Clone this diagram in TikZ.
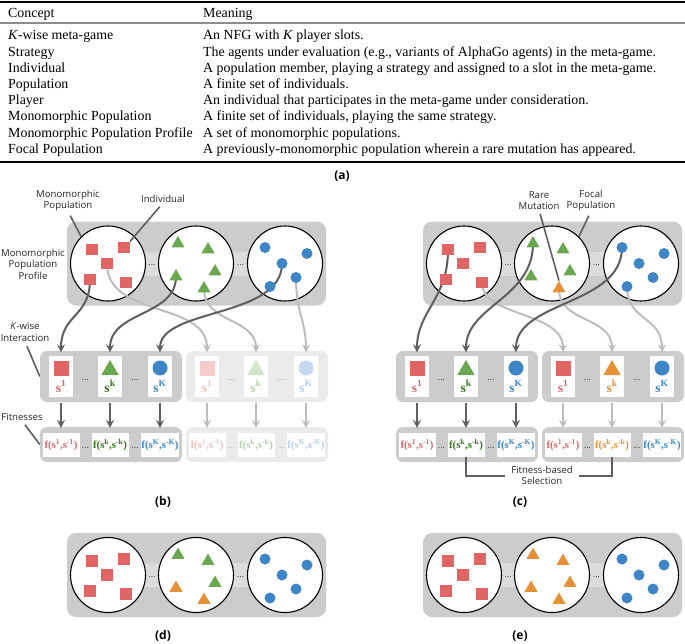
\documentclass[tikz,border=0pt]{standalone}
\usepackage{fontspec}
\setmainfont{Liberation Serif}
\setsansfont{Open Sans}
\usetikzlibrary{arrows.meta,shapes.geometric}
\definecolor{cred}{HTML}{E06666}
\definecolor{cgreen}{HTML}{6AA84F}
\definecolor{cblue}{HTML}{3D85C6}
\definecolor{corange}{HTML}{E69138}
\definecolor{tred}{HTML}{E06666}
\definecolor{tgreen}{HTML}{38761D}
\definecolor{tblue}{HTML}{3D85C6}
\definecolor{tor}{HTML}{E69138}
\definecolor{pred}{HTML}{F6CACA}
\definecolor{pgreen}{HTML}{D3E6C9}
\definecolor{pblue}{HTML}{C6D9F1}
\definecolor{ptred}{HTML}{F4BDBD}
\definecolor{ptgreen}{HTML}{B9CFAE}
\definecolor{ptblue}{HTML}{B8CDEE}
\definecolor{boxgray}{HTML}{CCCCCC}
\definecolor{boxlight}{HTML}{EBEBEB}
\definecolor{bandgray}{HTML}{DCDCDC}
\definecolor{darkline}{HTML}{5F5F5F}
\definecolor{lightline}{HTML}{BDBDBD}
\pgfdeclarelayer{back}\pgfdeclarelayer{mid}
\pgfsetlayers{back,mid,main}
\tikzset{
  tabl/.style={anchor=base west, inner sep=0, font=\fontsize{13.9}{15}\selectfont},
  popbox/.style={rectangle, rounded corners=9pt, fill=boxgray, minimum width=259pt, minimum height=84pt, inner sep=0},
  popcirc/.style={circle, draw=black, line width=1.1pt, fill=white, minimum size=75pt, inner sep=0},
  sqn/.style={rectangle, minimum size=11.5pt, inner sep=0},
  trin/.style={regular polygon, regular polygon sides=3, minimum size=15pt, inner sep=0},
  cirn/.style={circle, minimum size=11pt, inner sep=0},
  gdots/.style={font=\sffamily\fontsize{9}{9}\selectfont, text=dotcol, inner sep=0, anchor=base},
  kbox/.style={rectangle, rounded corners=7pt, minimum width=142pt, minimum height=51pt, inner sep=0},
  fbox/.style={rectangle, rounded corners=7pt, minimum width=142pt, minimum height=35pt, inner sep=0},
  card/.style={rectangle, fill=white, minimum width=24pt, minimum height=41pt, inner sep=0},
  fcard/.style={rectangle, fill=white, minimum width=37pt, minimum height=24pt, inner sep=0, font=\bfseries\fontsize{10.8}{11}\selectfont},
  slab/.style={inner sep=0, anchor=base, font=\bfseries\fontsize{13.5}{13.5}\selectfont},
  darr/.style={draw=darkline, line width=2pt, -{Stealth[length=8pt,width=8pt,inset=3pt]}},
  larr/.style={draw=lightline, line width=2pt, -{Stealth[length=8pt,width=8pt,inset=3pt]}},
  lead/.style={draw=darkline, line width=1.6pt},
  lab/.style={font=\sffamily\fontsize{9.6}{11.5}\selectfont, align=center, inner sep=0, text=black!85},
  plab/.style={font=\sffamily\bfseries\fontsize{12}{12}\selectfont, inner sep=0},
}
\colorlet{dotcol}{black!75}
\newcommand\popprofile[3]{%
  \begin{pgfonlayer}{back}
    \node[popbox] (#1box) at (#2+129.5,#3) {};
    \fill[bandgray] (#2+41,#3-12) rectangle (#2+218,#3+12);
    \node[popcirc] (#1p1) at (#2+41,#3) {};
    \node[popcirc] (#1p2) at (#2+129,#3) {};
    \node[popcirc] (#1p3) at (#2+218,#3) {};
    \node[gdots] (#1d1) at (#2+85,#3+2) {...};
    \node[gdots] (#1d2) at (#2+173.5,#3+2) {...};
  \end{pgfonlayer}}
\newcommand\sqset[3]{%
  \node[sqn,fill=cred] (#1q1) at (#2-16,#3-14) {};
  \node[sqn,fill=cred] (#1q2) at (#2+16,#3-16) {};
  \node[sqn,fill=cred] (#1q3) at (#2-1,#3) {};
  \node[sqn,fill=cred] (#1q4) at (#2-18,#3+16) {};
  \node[sqn,fill=cred] (#1q5) at (#2+18,#3+19) {};}
\newcommand\triset[8]{%
  \node[trin,fill=#4] (#1t1) at (#2-18,#3-20) {};
  \node[trin,fill=#5] (#1t2) at (#2+12,#3-14) {};
  \node[trin,fill=#6] (#1t3) at (#2+19,#3+8) {};
  \node[trin,fill=#7] (#1t4) at (#2-20,#3+13) {};
  \node[trin,fill=#8] (#1t5) at (#2+8,#3+25) {};}
\newcommand\cirset[3]{%
  \node[cirn,fill=cblue] (#1o1) at (#2-20,#3-16) {};
  \node[cirn,fill=cblue] (#1o2) at (#2+22,#3-10) {};
  \node[cirn,fill=cblue] (#1o3) at (#2-3,#3) {};
  \node[cirn,fill=cblue] (#1o4) at (#2+11,#3+14) {};
  \node[cirn,fill=cblue] (#1o5) at (#2-15,#3+23) {};}
\newcommand\kwise[9]{%
  \begin{pgfonlayer}{back}
    \node[kbox,fill=#3] (#1box) at (#2+71,376.5) {};
  \end{pgfonlayer}
  \node[card] (#1c1) at (#2+21,376.5) {};
  \node[card] (#1c2) at (#2+70,376.5) {};
  \node[card] (#1c3) at (#2+120,376.5) {};
  \node[sqn,minimum size=15pt,fill=#4] (#1h1) at (#2+21,368) {};
  \node[trin,minimum size=20pt,fill=#5] (#1h2) at (#2+70,370) {};
  \node[cirn,minimum size=15pt,fill=#6] (#1h3) at (#2+120,368) {};
  \node[slab,text=#7] (#1l1) at (#2+21,392) {s\textsuperscript{1}};
  \node[slab,text=#8] (#1l2) at (#2+70,392) {s\textsuperscript{k}};
  \node[slab,text=#9] (#1l3) at (#2+120,392) {s\textsuperscript{K}};
  \node[gdots] (#1e1) at (#2+45.5,380) {...};
  \node[gdots] (#1e2) at (#2+95,380) {...};}
\newcommand\fitrow[6]{%
  \begin{pgfonlayer}{back}
    \node[fbox,fill=#3] (#1box) at (#2+71,444.5) {};
  \end{pgfonlayer}
  \node[fcard,text=#4] (#1f1) at (#2+21,445) {f(s\textsuperscript{1},s\textsuperscript{-1})};
  \node[fcard,text=#5] (#1f2) at (#2+70,445) {f(s\textsuperscript{k},s\textsuperscript{-k})};
  \node[fcard,text=#6] (#1f3) at (#2+120,445) {f(s\textsuperscript{K},s\textsuperscript{-K})};
  \node[gdots] (#1e1) at (#2+45.5,448) {...};
  \node[gdots] (#1e2) at (#2+95,448) {...};}
\begin{document}
\begin{tikzpicture}[x=1pt,y=-1pt]
\useasboundingbox (0,0) rectangle (685,643);
% ---------------- table (a)
\draw[line width=1.4pt] (0,2) -- (685,2);
\draw[line width=1.6pt, draw=black!45] (0,23) -- (685,23);
\draw[line width=1.4pt] (0,162) -- (685,162);
\node[tabl] (h1) at (8,17.8) {Concept};
\node[tabl] (h2) at (203,17.8) {Meaning};
\node[tabl] (r1a) at (8,39.8) {\textit{K}-wise meta-game};
\node[tabl] (r1b) at (203,39.8) {An NFG with \textit{K} player slots.};
\node[tabl] (r2a) at (8,56.0) {Strategy};
\node[tabl] (r2b) at (203,56.0) {The agents under evaluation (e.g., variants of AlphaGo agents) in the meta-game.};
\node[tabl] (r3a) at (8,72.2) {Individual};
\node[tabl] (r3b) at (203,72.2) {A population member, playing a strategy and assigned to a slot in the meta-game.};
\node[tabl] (r4a) at (8,88.4) {Population};
\node[tabl] (r4b) at (203,88.4) {A finite set of individuals.};
\node[tabl] (r5a) at (8,104.6) {Player};
\node[tabl] (r5b) at (203,104.6) {An individual that participates in the meta-game under consideration.};
\node[tabl] (r6a) at (8,120.8) {Monomorphic Population};
\node[tabl] (r6b) at (203,120.8) {A finite set of individuals, playing the same strategy.};
\node[tabl] (r7a) at (8,137.0) {Monomorphic Population Profile};
\node[tabl] (r7b) at (203,137.0) {A set of monomorphic populations.};
\node[tabl] (r8a) at (8,153.2) {Focal Population};
\node[tabl] (r8b) at (203,153.2) {A previously-monomorphic population wherein a rare mutation has appeared.};
\node[plab] (la) at (342,176.5) {(a)};
% ---------------- panel (b)
\popprofile{b}{67}{263.5}
\sqset{b}{108}{263.5}
\triset{b}{196}{263.5}{cgreen}{cgreen}{cgreen}{cgreen}{cgreen}
\cirset{b}{285}{263.5}
\kwise{bk}{40}{boxgray}{cred}{cgreen}{cblue}{tred}{tgreen}{tblue}
\fitrow{bf}{40}{boxgray}{tred}{tgreen}{tblue}
\colorlet{dotcol}{black!30}
\kwise{bl}{186}{boxlight}{pred}{pgreen}{pblue}{ptred}{ptgreen}{ptblue}
\fitrow{bg}{186}{boxlight}{ptred}{ptgreen}{ptblue}
\colorlet{dotcol}{black!75}
\node[lab] (bLmp) at (68,200.5) {Monomorphic\\Population};
\node[lab] (bLind) at (163,199) {Individual};
\node[lab] (bLprof) at (33,264) {Monomorphic\\Population\\Profile};
\node[lab] (bLk) at (25,332) {\textit{K}-wise\\Interaction};
\node[lab] (bLf) at (22,417) {Fitnesses};
\node[plab] (lb) at (163,502) {(b)};
\begin{pgfonlayer}{mid}
  \draw[lead, shorten <=5pt] (bLmp.south) -- (bp1.135);
  \draw[lead, shorten <=5pt] (bLind.south) -- (bq2.north east);
  \draw[lead, shorten <=5pt] (bLk.south) -- (bkbox.west);
  \draw[lead, shorten <=5pt] (bLf.south) -- (bfbox.west);
  \draw[larr, shorten >=3.5pt] (bq3.center) .. controls +(0,55) and +(0,-55) .. (blc1.north);
  \draw[larr, shorten >=3.5pt] (bt5.center) .. controls +(0,35) and +(0,-38) .. (blc2.north);
  \draw[larr, shorten >=3.5pt] (bo4.center) .. controls +(0,35) and +(0,-35) .. (blc3.north);
  \draw[darr, shorten >=3.5pt] (bq4.center) .. controls +(0,38) and +(0,-42) .. (bkc1.north);
  \draw[darr, shorten >=3.5pt] (bt4.center) .. controls +(0,40) and +(0,-45) .. (bkc2.north);
  \draw[darr, shorten >=3.5pt] (bo3.center) .. controls +(0,55) and +(0,-48) .. (bkc3.north);
  \draw[darr, shorten <=5.5pt, shorten >=5pt] (bkc1.south) -- (bff1.north);
  \draw[darr, shorten <=5.5pt, shorten >=5pt] (bkc2.south) -- (bff2.north);
  \draw[darr, shorten <=5.5pt, shorten >=5pt] (bkc3.south) -- (bff3.north);
  \draw[larr, shorten <=5.5pt, shorten >=5pt] (blc1.south) -- (bgf1.north);
  \draw[larr, shorten <=5.5pt, shorten >=5pt] (blc2.south) -- (bgf2.north);
  \draw[larr, shorten <=5.5pt, shorten >=5pt] (blc3.south) -- (bgf3.north);
\end{pgfonlayer}
% ---------------- panel (c)
\popprofile{c}{423}{263.5}
\sqset{c}{464}{263.5}
\triset{c}{551}{263.5}{cgreen}{cgreen}{cgreen}{cgreen}{corange}
\cirset{c}{642}{263.5}
\kwise{ck}{396}{boxgray}{cred}{cgreen}{cblue}{tred}{tgreen}{tblue}
\fitrow{cf}{396}{boxgray}{tred}{tgreen}{tblue}
\kwise{cl}{542}{boxgray}{cred}{corange}{cblue}{tred}{tor}{tblue}
\fitrow{cg}{542}{boxgray}{tred}{tor}{tblue}
\node[lab] (cLrm) at (539,200.5) {Rare\\Mutation};
\node[lab] (cLfp) at (591,200.5) {Focal\\Population};
\node[lab] (csel) at (542,475.5) {Fitness-based\\Selection};
\node[plab] (lc) at (520,502) {(c)};
\begin{pgfonlayer}{mid}
  \draw[lead, shorten <=4pt] (cLrm.south) -- (ct5.north);
  \draw[lead, shorten <=5pt] (cLfp.south) -- (cp2.45);
  \draw[lead, line width=2pt, shorten >=6pt] (cff2.south) |- (csel.west);
  \draw[lead, line width=2pt, shorten >=6pt] (cgf2.south) |- (csel.east);
  \draw[larr, shorten >=3.5pt] (cq5.center) .. controls +(0,35) and +(0,-45) .. (clc1.north);
  \draw[larr, shorten >=3.5pt] (ct5.center) .. controls +(0,35) and +(0,-40) .. (clc2.north);
  \draw[larr, shorten >=3.5pt] (co5.center) .. controls +(0,35) and +(0,-40) .. (clc3.north);
  \draw[darr, shorten >=3.5pt] (cq1.center) .. controls +(0,50) and +(0,-45) .. (ckc1.north);
  \draw[darr, shorten >=3.5pt] (ct1.center) .. controls +(0,55) and +(0,-50) .. (ckc2.north);
  \draw[darr, shorten >=3.5pt] (co1.center) .. controls +(0,58) and +(0,-55) .. (ckc3.north);
  \draw[darr, shorten <=5.5pt, shorten >=5pt] (ckc1.south) -- (cff1.north);
  \draw[darr, shorten <=5.5pt, shorten >=5pt] (ckc2.south) -- (cff2.north);
  \draw[darr, shorten <=5.5pt, shorten >=5pt] (ckc3.south) -- (cff3.north);
  \draw[larr, shorten <=5.5pt, shorten >=5pt] (clc1.south) -- (cgf1.north);
  \draw[larr, shorten <=5.5pt, shorten >=5pt] (clc2.south) -- (cgf2.north);
  \draw[larr, shorten <=5.5pt, shorten >=5pt] (clc3.south) -- (cgf3.north);
\end{pgfonlayer}
% ---------------- panel (d)
\popprofile{d}{67}{575}
\sqset{d}{108}{575}
\triset{d}{196}{575}{cgreen}{cgreen}{cgreen}{corange}{corange}
\cirset{d}{285}{575}
\node[plab] (ld) at (163,636) {(d)};
% ---------------- panel (e)
\popprofile{e}{423}{575}
\sqset{e}{464}{575}
\triset{e}{551}{575}{corange}{corange}{corange}{corange}{corange}
\cirset{e}{642}{575}
\node[plab] (le) at (520,636) {(e)};
\end{tikzpicture}
\end{document}
